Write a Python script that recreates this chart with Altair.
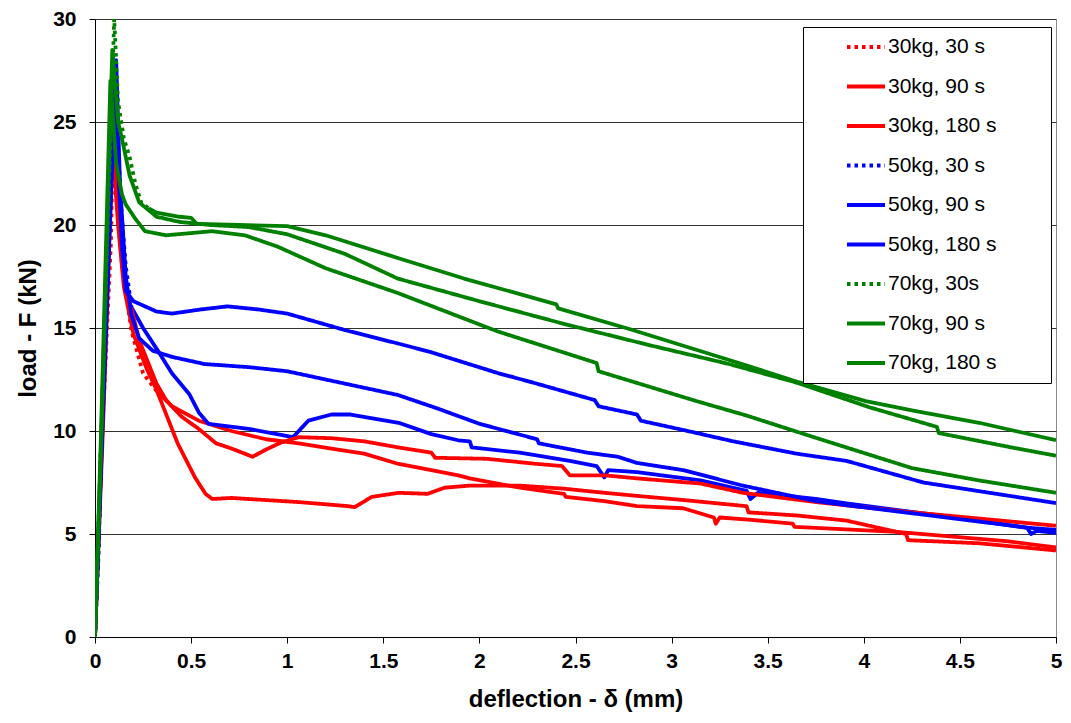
import altair as alt
import pandas as pd

# ---------------- data ----------------
names = ["30kg, 30 s", "30kg, 90 s", "30kg, 180 s",
         "50kg, 30 s", "50kg, 90 s", "50kg, 180 s",
         "70kg, 30s", "70kg, 90 s", "70kg, 180 s"]

r30_x = [0, 0.036, 0.083, 0.095, 0.11, 0.14, 0.19, 0.25, 0.32, 0.4, 0.54, 0.71, 0.89, 1.06, 1.23, 1.4,
         1.58, 1.75, 1.89, 1.95, 2.21, 2.44, 2.45, 2.65, 2.82, 3.06, 3.22, 3.23, 3.25, 3.4, 3.63, 3.64,
         3.75, 4.17, 4.74, 5.0]
r30_y = [0, 9.5, 19.2, 24.8, 21.5, 18.1, 14.85, 12.8, 11.95, 11.2, 10.5, 10.0, 9.6, 9.4, 9.15, 8.9,
         8.4, 8.1, 7.85, 7.7, 7.25, 6.95, 6.8, 6.6, 6.35, 6.25, 5.8, 5.5, 5.8, 5.7, 5.5, 5.35,
         5.3, 5.1, 4.65, 4.35]

r90_x = [0, 0.04, 0.095, 0.12, 0.15, 0.18, 0.23, 0.32, 0.37, 0.45, 0.54, 0.63, 0.71, 0.82, 0.89, 0.97,
         1.06, 1.23, 1.4, 1.58, 1.75, 1.77, 2.04, 2.3, 2.43, 2.47, 2.65, 2.82, 3.15, 3.37, 3.75, 4.2,
         4.6, 5.0]
r90_y = [0, 9.8, 24.5, 21.0, 17.5, 16.3, 14.4, 12.3, 11.5, 10.7, 10.1, 9.4, 9.15, 8.75, 9.1, 9.45,
         9.7, 9.65, 9.5, 9.2, 8.95, 8.7, 8.65, 8.4, 8.3, 7.85, 7.85, 7.7, 7.45, 7.0, 6.55, 6.1,
         5.75, 5.4]

r180_x = [0, 0.035, 0.09, 0.12, 0.15, 0.2, 0.27, 0.32, 0.43, 0.52, 0.575, 0.61, 0.71, 1.06, 1.32, 1.35,
          1.44, 1.58, 1.73, 1.82, 1.95, 2.21, 2.44, 2.65, 2.82, 3.06, 3.39, 3.4, 3.65, 3.91, 4.22, 4.23,
          4.6, 5.0]
r180_y = [0, 9.3, 24.0, 20.0, 17.0, 14.7, 13.0, 12.0, 9.4, 7.75, 6.95, 6.7, 6.75, 6.55, 6.35, 6.3,
          6.8, 7.0, 6.95, 7.25, 7.35, 7.35, 7.2, 7.0, 6.85, 6.65, 6.35, 6.05, 5.9, 5.65, 5.0, 4.7,
          4.55, 4.2]

b30_x = [0, 0.02, 0.03, 0.06, 0.1, 0.12, 0.135, 0.16, 0.19, 0.25, 0.32, 0.4, 0.49, 0.54, 0.59, 0.8,
         1.03, 1.08, 1.11, 1.23, 1.33, 1.58, 1.75, 1.89, 1.95, 1.96, 2.21, 2.47, 2.61, 2.65, 2.67, 2.82,
         3.15, 3.39, 3.41, 3.45, 3.75, 3.9, 4.43, 4.85, 4.87, 4.9, 5.0]
b30_y = [0, 4.35, 8.9, 16.0, 25.5, 24.0, 21.0, 18.0, 16.0, 15.0, 14.0, 12.8, 11.8, 10.9, 10.35, 10.1,
         9.7, 10.2, 10.5, 10.8, 10.8, 10.4, 9.85, 9.55, 9.5, 9.2, 8.95, 8.55, 8.3, 7.75, 8.1, 8.0,
         7.6, 7.1, 6.7, 7.0, 6.7, 6.5, 5.85, 5.3, 5.0, 5.15, 5.05]

b90_x = [0, 0.05, 0.1, 0.12, 0.14, 0.16, 0.2, 0.32, 0.4, 0.55, 0.69, 0.85, 1.0, 1.15, 1.3, 1.575,
         1.74, 2.1, 2.26, 2.6, 2.62, 2.82, 2.84, 3.06, 3.32, 3.65, 3.91, 4.31, 4.6, 5.0]
b90_y = [0, 13.0, 26.5, 23.0, 19.0, 16.8, 16.3, 15.8, 15.7, 15.9, 16.05, 15.9, 15.7, 15.3, 14.9, 14.25,
         13.85, 12.8, 12.4, 11.5, 11.2, 10.8, 10.5, 10.05, 9.5, 8.9, 8.55, 7.5, 7.08, 6.5]

b180_x = [0, 0.05, 0.11, 0.13, 0.16, 0.19, 0.23, 0.3, 0.4, 0.57, 0.8, 1.0, 1.3, 1.575, 1.78, 2.0,
          2.3, 2.31, 2.56, 2.72, 2.82, 3.06, 3.37, 3.75, 3.91, 4.43, 4.86, 5.0]
b180_y = [0, 13.5, 28.0, 22.0, 17.5, 15.6, 14.5, 13.9, 13.6, 13.25, 13.1, 12.9, 12.3, 11.75, 11.1, 10.35,
          9.6, 9.4, 8.95, 8.75, 8.45, 8.1, 7.35, 6.6, 6.4, 5.8, 5.3, 5.2]

g30_x = [0, 0.035, 0.07, 0.1, 0.12, 0.15, 0.18, 0.21, 0.24, 0.28, 0.32, 0.44, 0.5, 0.53, 0.75, 1.0,
         1.2, 1.575, 1.92, 2.4, 2.41, 2.78, 3.35, 3.65, 4.01, 4.25, 4.6, 5.0]
g30_y = [0, 10.5, 21.0, 30.0, 26.0, 24.2, 23.3, 22.0, 21.1, 20.8, 20.6, 20.4, 20.35, 20.05, 20.0, 19.95,
         19.5, 18.4, 17.4, 16.15, 15.95, 14.95, 13.3, 12.4, 11.45, 11.0, 10.4, 9.55]

g90_x = [0, 0.035, 0.09, 0.12, 0.14, 0.18, 0.23, 0.32, 0.44, 0.6, 0.8, 1.0, 1.3, 1.575, 2.0, 2.44,
         2.87, 3.3, 3.65, 4.03, 4.38, 4.39, 4.77, 5.0]
g90_y = [0, 10.3, 28.5, 25.0, 24.2, 22.4, 21.1, 20.4, 20.15, 20.0, 19.9, 19.55, 18.6, 17.4, 16.3, 15.2,
         14.2, 13.25, 12.35, 11.15, 10.2, 9.9, 9.2, 8.8]

g180_x = [0, 0.03, 0.08, 0.11, 0.14, 0.16, 0.21, 0.26, 0.37, 0.61, 0.78, 0.95, 1.2, 1.575, 2.09, 2.61,
          2.62, 3.13, 3.39, 3.74, 4.25, 4.6, 5.0]
g180_y = [0, 9.5, 27.0, 23.0, 21.5, 21.0, 20.3, 19.7, 19.5, 19.7, 19.5, 18.95, 17.9, 16.7, 14.85, 13.3,
          12.9, 11.45, 10.75, 9.7, 8.2, 7.6, 7.0]

x_ticks = [0, 0.5, 1, 1.5, 2, 2.5, 3, 3.5, 4, 4.5, 5]
y_ticks = [0, 5, 10, 15, 20, 25, 30]

# ---------------- styling ----------------
colors = ["#ff0000"] * 3 + ["#0000ff"] * 3 + ["#008000"] * 3
DOT = [3.5, 4]
SOLID = [1, 0]
dashes = [DOT, SOLID, SOLID] * 3
# the dotted series look dotted only on their steep first part
dot_end = {"30kg, 30 s": 0.32, "50kg, 30 s": 0.19, "70kg, 30s": 0.28}

all_x = [r30_x, r90_x, r180_x, b30_x, b90_x, b180_x, g30_x, g90_x, g180_x]
all_y = [r30_y, r90_y, r180_y, b30_y, b90_y, b180_y, g30_y, g90_y, g180_y]

rows_a, rows_b = [], []
for name, xs, ys in zip(names, all_x, all_y):
    for i, (x, y) in enumerate(zip(xs, ys)):
        rec = {"series": name, "x": x, "y": y, "i": i}
        if name in dot_end:
            if x <= dot_end[name]:
                rows_a.append(rec)
            if x >= dot_end[name]:
                rows_b.append(rec)
        else:
            rows_a.append(rec)
df_a = pd.DataFrame(rows_a)
df_b = pd.DataFrame(rows_b)

FONT = "Liberation Sans"
PAD = "\u2800" * 3   # blank (invisible) cells that widen the legend box like the original

x_enc = alt.X("x:Q",
              scale=alt.Scale(domain=[0, 5], nice=False, zero=False),
              axis=alt.Axis(values=x_ticks, format="~g", title="deflection - δ (mm)", grid=False,
                            labelFontSize=21, labelFontWeight="bold", labelFont=FONT,
                            labelPadding=7, tickSize=6, titleFontSize=24,
                            titleFont=FONT, titleFontWeight="bold", titlePadding=16,
                            domainColor="#000", tickColor="#000", labelColor="#000",
                            titleColor="#000", labelFlush=False))
y_enc = alt.Y("y:Q",
              scale=alt.Scale(domain=[0, 30], nice=False),
              axis=alt.Axis(values=y_ticks, title="load - F (kN)", grid=True,
                            gridColor="#333333", gridWidth=1,
                            labelFontSize=21, labelFontWeight="bold", labelFont=FONT,
                            labelPadding=13, tickSize=6, titleFontSize=24,
                            titleFont=FONT, titleFontWeight="bold", titlePadding=12,
                            domainColor="#000", tickColor="#000", labelColor="#000",
                            titleColor="#000", labelFlush=False))

legend = alt.Legend(title=None, orient="none", legendX=708, legendY=8,
                    padding=9, fillColor="#ffffff", strokeColor="#000000",
                    labelFont=FONT, labelFontSize=21, labelColor="#000",
                    symbolType="stroke", symbolSize=1444, symbolStrokeWidth=4,
                    clipHeight=22, rowPadding=17.5, symbolOffset=33, labelOffset=1,
                    labelLimit=500,
                    labelExpr="datum.label + '" + PAD + "'")

color_enc = alt.Color("series:N", sort=names,
                      scale=alt.Scale(domain=names, range=colors), legend=legend)
dash_enc = alt.StrokeDash("series:N", sort=names,
                          scale=alt.Scale(domain=names, range=dashes), legend=legend)

lines_a = alt.Chart(df_a).mark_line(strokeWidth=3.8, strokeJoin="round", clip=True).encode(
    x=x_enc, y=y_enc, color=color_enc, strokeDash=dash_enc, order="i:Q")

lines_b = alt.Chart(df_b).mark_line(strokeWidth=3.8, strokeJoin="round", clip=True).encode(
    x="x:Q", y="y:Q",
    color=alt.Color("series:N", sort=names, scale=alt.Scale(domain=names, range=colors), legend=legend),
    order="i:Q")

chart = alt.layer(lines_b, lines_a).properties(
    width=961, height=618,
    autosize=alt.AutoSizeParams(type="none"),
    padding={"left": 87, "top": 11, "right": 7, "bottom": 78},
    background="#ffffff",
).configure_view(stroke="#8c8c8c", strokeWidth=1)

chart.save("out.html", embed_options={"renderer": "svg", "actions": False})
